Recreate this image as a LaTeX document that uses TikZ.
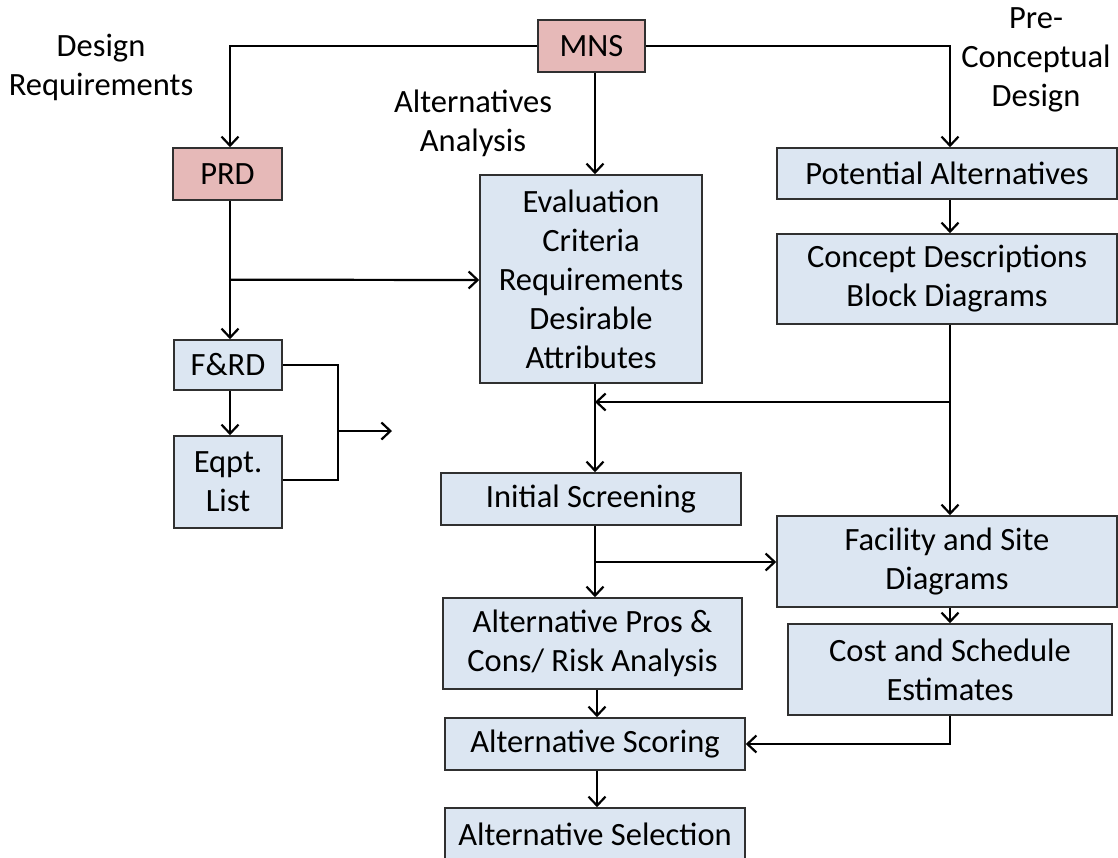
\documentclass[tikz,border=0pt]{standalone}
\usepackage{fontspec}
\setmainfont{Carlito}
\usetikzlibrary{arrows.meta,calc}
\definecolor{boxblue}{HTML}{DCE6F2}
\definecolor{boxpink}{HTML}{E6B9B8}
\definecolor{edgegray}{HTML}{303030}
\begin{document}
\begin{tikzpicture}[x=1pt,y=-1pt,
  txt/.style={font=\fontsize{32.5}{39}\selectfont},
  bx/.style={txt, draw=edgegray, line width=1.6pt, fill=boxblue, align=center, inner sep=0pt},
  pinkbx/.style={bx, fill=boxpink},
  lbl/.style={txt, align=center, inner sep=0pt},
  ln/.style={line width=2.2pt, draw=black},
  arr/.style={ln, -{Straight Barb[length=9pt,width=17pt,line width=2.2pt]}}]
\useasboundingbox (0,0) rectangle (1118,857);
\clip (0,0) rectangle (1118,857);
\fill[white] (0,0) rectangle (1118,857);

% column guides for the connectors
\coordinate (lcol) at (230,0);
\coordinate (mcol) at (595,0);
\coordinate (rcol) at (950,0);

% section headings
\node[lbl] (hdes) at (101,67) {Design\\Requirements};
\node[lbl] (halt) at (473,123) {Alternatives\\Analysis};
\node[lbl] (hpre) at (1036,60) {Pre-\\Conceptual\\Design};

% boxes
\node[pinkbx, minimum width=107, minimum height=52] (mns) at (591.5,46) {MNS};
\node[pinkbx, minimum width=109, minimum height=52] (prd) at (227.5,174) {PRD};
\node[bx, minimum width=222, minimum height=208] (eval) at (591,279)
  {Evaluation\\Criteria\\Requirements\\Desirable\\Attributes};
\node[bx, minimum width=340, minimum height=51] (pot) at (947,173.5) {Potential Alternatives};
\node[bx, minimum width=340, minimum height=90] (conc) at (947,279) {Concept Descriptions\\Block Diagrams};
\node[bx, minimum width=108, minimum height=50] (frd) at (228,365) {F\&RD};
\node[bx, minimum width=108, minimum height=92] (eqpt) at (228,482) {Eqpt.\\List};
\node[bx, minimum width=300, minimum height=52] (init) at (591,499) {Initial Screening};
\node[bx, minimum width=340, minimum height=91] (fac) at (947,561.5) {Facility and Site\\Diagrams};
\node[bx, minimum width=299, minimum height=91] (pros) at (592.5,643.5) {Alternative Pros \&\\Cons/ Risk Analysis};
\node[bx, minimum width=324, minimum height=91] (cost) at (950,669.5) {Cost and Schedule\\Estimates};
\node[bx, minimum width=300, minimum height=52] (score) at (595,744) {Alternative Scoring};
\node[bx, minimum width=300, minimum height=52] (sel) at (595,834) {Alternative Selection};

% free end of the F&RD / Eqpt. List output
\coordinate (out) at (392,431);

% MNS fan-out
\draw[arr] (mns.west) -| (prd.north -| lcol);
\draw[arr] (mns.east) -| (pot.north -| rcol);
\draw[arr] (mns.south -| mcol) -- (eval.north -| mcol);

% design requirements column
\draw[arr] (prd.south -| lcol) -- (frd.north -| lcol);
\draw[arr] ($(prd.south -| lcol)!0.57!(frd.north -| lcol)$) -- (eval.west |- 0,280);
\draw[arr] (frd.south -| lcol) -- (eqpt.north -| lcol);
\draw[ln] (frd.east) -- (338,365) -- (338,480) -- (eqpt.east |- 0,480);
\draw[arr] (338,431) -- (out);

% pre-conceptual design column
\draw[arr] (pot.south -| rcol) -- (conc.north -| rcol);
\draw[arr] (conc.south -| rcol) -- (fac.north -| rcol);
\draw[arr] (rcol |- 0,402) -- (mcol |- 0,402);
\draw[arr] (fac.south -| rcol) -- (cost.north -| rcol);

% alternatives analysis column
\draw[arr] (eval.south -| mcol) -- (init.north -| mcol);
\draw[arr] (init.south -| mcol) -- (pros.north -| mcol);
\draw[arr] (mcol |- 0,562) -- (fac.west |- 0,562);
\draw[arr] (pros.south -| 597,0) -- (score.north -| 597,0);
\draw[arr] (cost.south -| rcol) |- (score.east);
\draw[arr] (score.south -| 597,0) -- (sel.north -| 597,0);
\end{tikzpicture}
\end{document}
